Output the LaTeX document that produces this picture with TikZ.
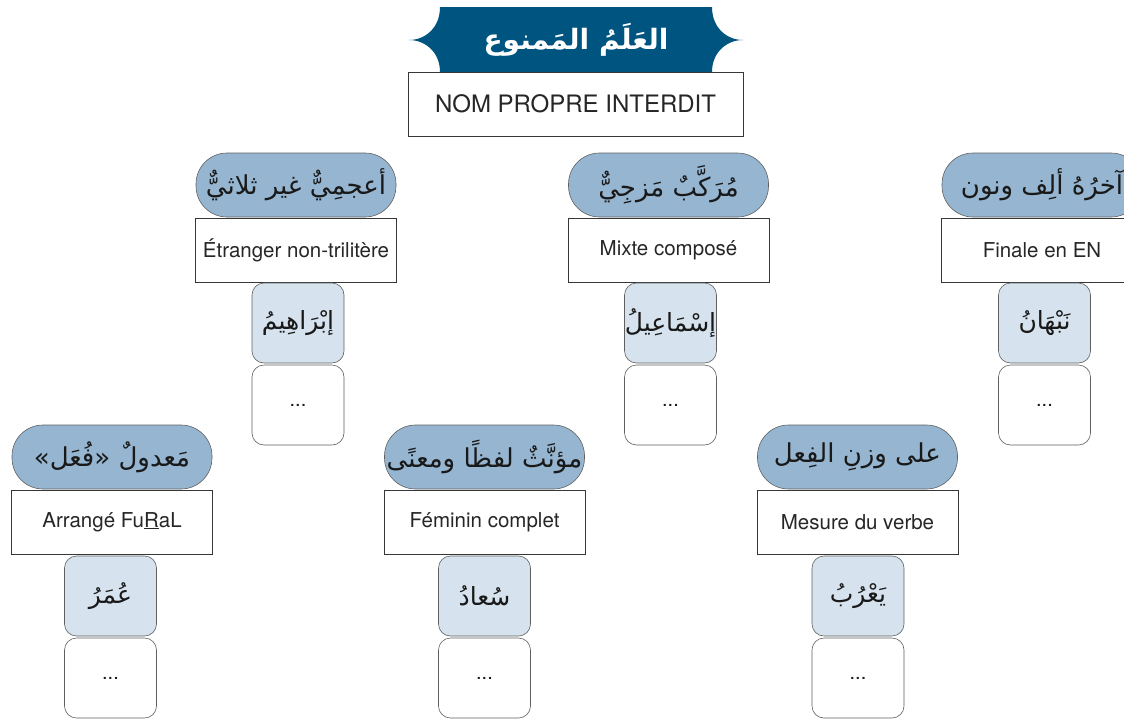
\documentclass[tikz,border=0pt]{standalone}
\usepackage{fontspec}
\setmainfont{TeX Gyre Heros}
\newfontfamily\arabicfont[Script=Arabic]{DejaVu Sans}
\TeXXeTstate=1
\newcommand\artext[1]{{\arabicfont\beginR #1\endR}}
\definecolor{bannerblue}{RGB}{0,84,128}
\definecolor{pillfill}{RGB}{149,181,208}
\definecolor{samplefill}{RGB}{214,227,238}
\definecolor{softline}{RGB}{95,95,95}
\definecolor{boxline}{RGB}{55,55,55}
\begin{document}
\begin{tikzpicture}[x=1pt,y=-1pt,
  pill/.style={draw=softline, fill=pillfill, line width=0.6pt, rounded corners=31pt,
    minimum width=200pt, minimum height=64pt, inner sep=0pt, text=black!90,
    font=\fontsize{26}{30}\selectfont},
  namebox/.style={draw=boxline, fill=white, line width=0.8pt, minimum width=201pt,
    minimum height=64pt, inner sep=0pt, text=black!85, font=\fontsize{20.5}{24}\selectfont},
  samplebox/.style={draw=softline, fill=samplefill, line width=0.6pt, rounded corners=12pt,
    minimum width=92pt, minimum height=80pt, inner sep=0pt, text=black!90,
    font=\fontsize{25}{30}\selectfont},
  dotsbox/.style={samplebox, fill=white, font=\fontsize{20}{24}\selectfont},
]
\useasboundingbox (0,0) rectangle (1124,718);

% title banner with notched ends
\fill[bannerblue] (440,7) -- (712,7)
  .. controls (712,28) and (727,40) .. (743,40)
  .. controls (727,40) and (712,52) .. (712,72)
  -- (440,72)
  .. controls (440,52) and (425,40) .. (409,40)
  .. controls (425,40) and (440,28) .. (440,7) -- cycle;
\node[text=white, font=\fontsize{28}{32}\selectfont\bfseries] (title) at (576,40)
  {\artext{العَلَمُ المَمنوع}};
\node[namebox, minimum width=335pt, font=\fontsize{24}{28}\selectfont] (main) at (575.5,104)
  {NOM PROPRE INTERDIT};

% top row
\node[pill] (p1) at (296,185) {\artext{أعجمِيٌّ غير ثلاثيٌّ}};
\node[namebox] (n1) at (296,250) {Étranger non-trilitère};
\node[samplebox] (s1) at (298,323) {\artext{إبْرَاهِيمُ}};
\node[dotsbox] (d1) at (298,405) {...};

\node[pill] (p2) at (668.5,185) {\artext{مُرَكَّبٌ مَزجِيٌّ}};
\node[namebox] (n2) at (668.5,250) {Mixte composé};
\node[samplebox] (s2) at (670.5,323) {\artext{إسْمَاعِيلُ}};
\node[dotsbox] (d2) at (670.5,405) {...};

\node[pill] (p3) at (1042,185) {\artext{آخرُهُ ألِف ونون}};
\node[namebox] (n3) at (1042,250) {Finale en EN};
\node[samplebox] (s3) at (1044.5,323) {\artext{نَبْهَانُ}};
\node[dotsbox] (d3) at (1044.5,405) {...};

% bottom row
\node[pill] (p4) at (112,457) {\artext{مَعدولٌ «فُعَل»}};
\node[namebox] (n4) at (112,522) {Arrangé Fu\underline{R}aL};
\node[samplebox] (s4) at (110.5,596) {\artext{عُمَرُ}};
\node[dotsbox] (d4) at (110.5,678) {...};

\node[pill] (p5) at (484.5,457) {\artext{مؤنَّثٌ لفظًا ومعنًى}};
\node[namebox] (n5) at (484.5,522) {Féminin complet};
\node[samplebox] (s5) at (484.5,596) {\artext{سُعادُ}};
\node[dotsbox] (d5) at (484.5,678) {...};

\node[pill] (p6) at (857.5,457) {\artext{على وزنِ الفِعل}};
\node[namebox] (n6) at (857.5,522) {Mesure du verbe};
\node[samplebox] (s6) at (858,596) {\artext{يَعْرُبُ}};
\node[dotsbox] (d6) at (858,678) {...};
\end{tikzpicture}
\end{document}
